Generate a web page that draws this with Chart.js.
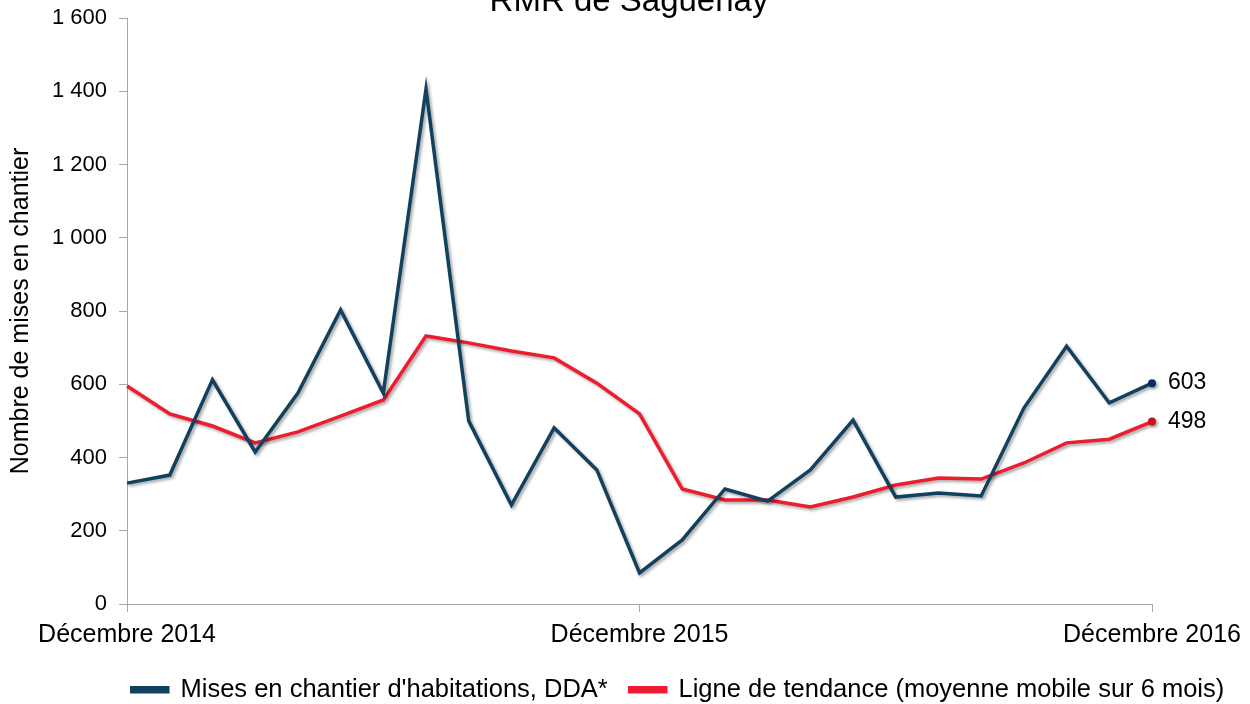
<!DOCTYPE html>
<html>
<head>
<meta charset="utf-8">
<script src="https://cdn.jsdelivr.net/npm/chart.js@4"></script>
<style>
  html, body { margin: 0; padding: 0; background: #fff; }
</style>
</head>
<body>
<canvas id="cv" width="1250" height="704"></canvas>
<script>
// --- données (décembre 2014 à décembre 2016) ---
const mois = [
  "Décembre 2014", "Janvier 2015", "Février 2015", "Mars 2015", "Avril 2015", "Mai 2015",
  "Juin 2015", "Juillet 2015", "Août 2015", "Septembre 2015", "Octobre 2015", "Novembre 2015",
  "Décembre 2015", "Janvier 2016", "Février 2016", "Mars 2016", "Avril 2016", "Mai 2016",
  "Juin 2016", "Juillet 2016", "Août 2016", "Septembre 2016", "Octobre 2016", "Novembre 2016",
  "Décembre 2016"
];
const misesEnChantier = [330, 352, 612, 415, 576, 803, 576, 1406, 500, 270, 481, 366,
                         85, 175, 314, 281, 366, 502, 292, 303, 295, 535, 704, 549, 603];
const tendance = [595, 519, 486, 440, 470, 513, 557, 732, 713, 691, 672, 603,
                  519, 314, 284, 284, 265, 292, 325, 344, 341, 385, 440, 450, 498];
const ticksAxeX = ["Décembre 2014", "Décembre 2015", "Décembre 2016"];
const titre = 'RMR de Saguenay';

const FONT = "'Liberation Sans', Arial, sans-serif";
const couleurDDA = '#12405F';
const couleurTendance = '#ED1C2E';

// titre (coupé en haut, comme dans l'original)
const titreHaut = {
  id: 'titreHaut',
  afterDraw(chart) {
    const c = chart.ctx;
    c.save();
    c.font = '33px ' + FONT;
    c.fillStyle = '#000';
    c.textAlign = 'center';
    c.textBaseline = 'alphabetic';
    c.fillText(titre, 629, 11);
    c.restore();
  }
};

// ombre portée sous les courbes
const ombre = {
  id: 'ombre',
  beforeDatasetsDraw(chart) {
    const c = chart.ctx;
    c.save();
    c.shadowColor = 'rgba(0,0,0,0.35)';
    c.shadowBlur = 3;
    c.shadowOffsetX = 2;
    c.shadowOffsetY = 2;
  },
  afterDatasetsDraw(chart) {
    chart.ctx.restore();
  }
};

// étiquette de la dernière valeur
const derniereValeur = {
  id: 'derniereValeur',
  afterDatasetsDraw(chart) {
    const c = chart.ctx;
    c.save();
    c.font = '23px ' + FONT;
    c.fillStyle = '#000';
    c.textBaseline = 'middle';
    c.textAlign = 'left';
    chart.data.datasets.forEach((ds, i) => {
      const meta = chart.getDatasetMeta(i);
      const pt = meta.data[meta.data.length - 1];
      const v = ds.data[ds.data.length - 1];
      c.fillText(String(v), pt.x + 16, pt.y);
    });
    c.restore();
  }
};

// décale la légende vers la droite (centrée sous le graphique d'origine)
const decaleLegende = {
  id: 'decaleLegende',
  afterLayout(chart) {
    const l = chart.legend;
    if (l) { l.left += 99; l.right += 99; }
  }
};

const dernierPoint = (n) => (ctx) => ctx.dataIndex === n - 1 ? 4 : 0;

new Chart(document.getElementById('cv'), {
  type: 'line',
  data: {
    labels: mois,
    datasets: [
      {
        label: "Mises en chantier d'habitations, DDA*",
        data: misesEnChantier,
        borderColor: couleurDDA,
        backgroundColor: couleurDDA,
        pointBackgroundColor: '#0B2C63',
        pointBorderWidth: 0,
        borderWidth: 3.5,
        tension: 0,
        pointRadius: dernierPoint(misesEnChantier.length),
        pointHoverRadius: 0
      },
      {
        label: "Ligne de tendance (moyenne mobile sur 6 mois)",
        data: tendance,
        borderColor: couleurTendance,
        backgroundColor: couleurTendance,
        pointBackgroundColor: '#C8101E',
        pointBorderWidth: 0,
        borderWidth: 3.5,
        tension: 0,
        pointRadius: dernierPoint(tendance.length),
        pointHoverRadius: 0
      }
    ]
  },
  options: {
    responsive: false,
    animation: false,
    clip: false,
    layout: { padding: { left: 6, right: 98, top: 0, bottom: -8.5 } },
    plugins: {
      title: { display: false },
      legend: {
        position: 'bottom',
        labels: {
          color: '#000',
          font: { family: FONT, size: 25.5 },
          boxWidth: 36,
          boxHeight: 4,
          padding: 22
        }
      },
      tooltip: { enabled: false }
    },
    scales: {
      x: {
        offset: false,
        border: { color: '#A6A6A6', width: 1 },
        grid: {
          drawOnChartArea: false,
          tickLength: 8,
          color: (ctx) => (ctx.index % 12 === 0 ? '#A6A6A6' : 'rgba(0,0,0,0)')
        },
        ticks: {
          autoSkip: false,
          maxRotation: 0,
          color: '#000',
          font: { family: FONT, size: 25 },
          padding: 8,
          callback: function (v) {
            const l = this.getLabelForValue(v);
            return ticksAxeX.includes(l) ? l : '';
          }
        },
        afterFit: (scale) => { scale.height = 51; }
      },
      y: {
        min: 0,
        max: 1600,
        border: { color: '#A6A6A6', width: 1 },
        grid: { drawOnChartArea: false, tickLength: 8, color: '#A6A6A6' },
        ticks: {
          stepSize: 200,
          color: '#000',
          font: { family: FONT, size: 22 },
          padding: 12,
          callback: (v) => String(v).replace(/\B(?=(\d{3})+(?!\d))/g, ' ')
        },
        title: {
          display: true,
          text: 'Nombre de mises en chantier',
          color: '#000',
          font: { family: FONT, size: 25 },
          padding: { top: 0, bottom: 4 }
        },
        afterFit: (scale) => { scale.paddingTop = 18; scale.paddingBottom = 0; }
      }
    }
  },
  plugins: [ombre, derniereValeur, titreHaut, decaleLegende]
});
</script>
</body>
</html>
